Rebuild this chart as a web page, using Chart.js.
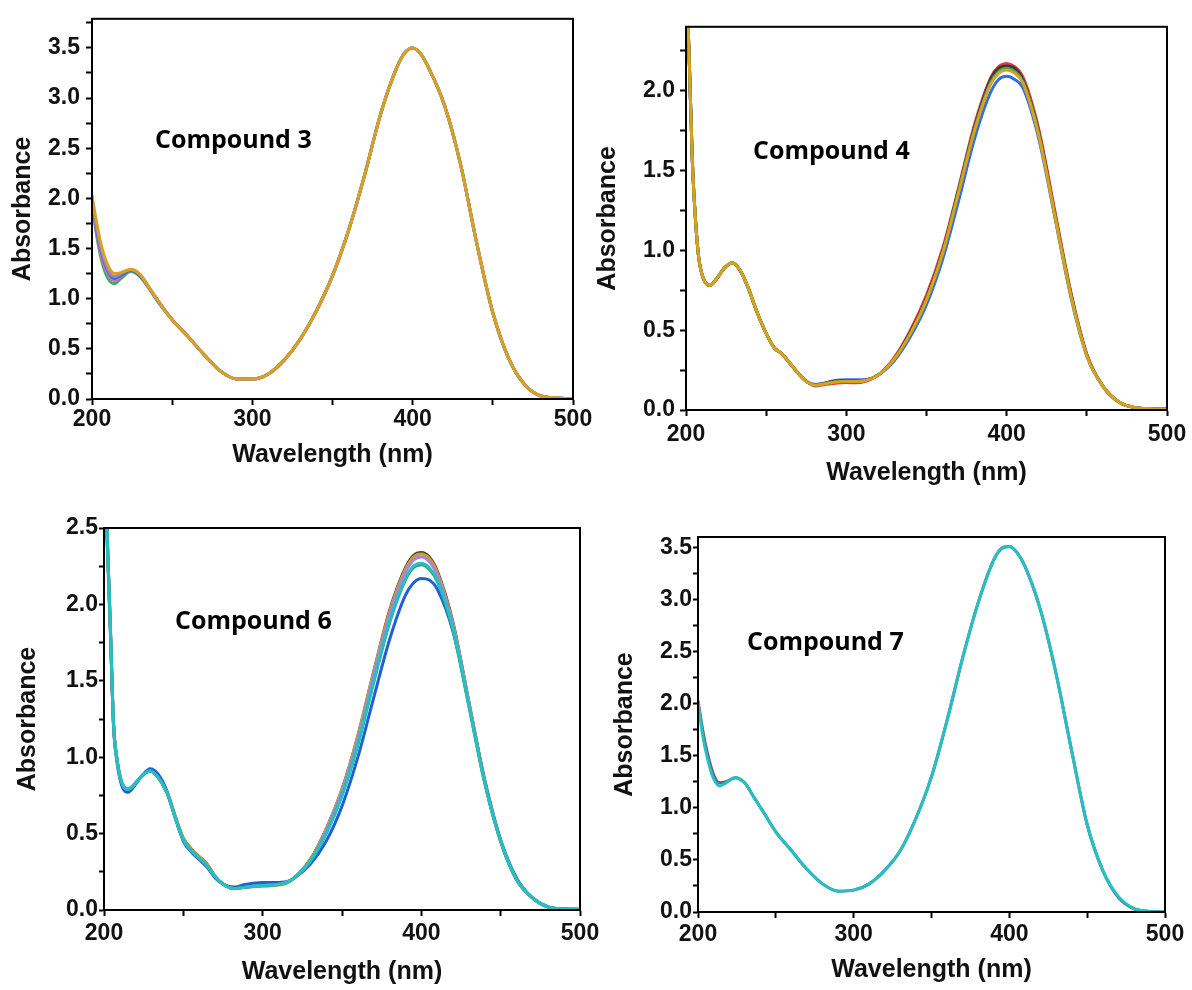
<!DOCTYPE html>
<html>
<head>
<meta charset="utf-8">
<title>UV-Vis spectra</title>
<script src="https://cdn.jsdelivr.net/npm/chart.js@4"></script>
<style>
  html, body { margin: 0; padding: 0; background: #fff; overflow: hidden; }
  body { width: 1192px; height: 990px; position: relative; }
  canvas { position: absolute; }
</style>
</head>
<body>
<canvas id="c3"></canvas>
<canvas id="c4"></canvas>
<canvas id="c6"></canvas>
<canvas id="c7"></canvas>
<script>
// Compound 3 (top left)
const wl3 = [200,203,206,210,214,218,224,230,236,242,250,260,270,280,290,300,310,320,330,340,350,360,370,380,390,395,400,405,410,420,430,440,450,460,470,480,490,500];
const c3Gold   = [2.03,1.75,1.52,1.33,1.25,1.26,1.29,1.24,1.10,0.96,0.79,0.62,0.44,0.28,0.20,0.20,0.25,0.39,0.60,0.88,1.23,1.68,2.23,2.84,3.30,3.45,3.50,3.44,3.30,2.92,2.33,1.55,0.86,0.40,0.14,0.03,0.01,0.00];
const c3Purple = [2.00,1.70,1.48,1.29,1.22,1.25,1.29,1.24,1.10,0.96,0.79,0.62,0.44,0.28,0.20,0.20,0.25,0.39,0.60,0.88,1.23,1.68,2.23,2.84,3.30,3.45,3.50,3.44,3.30,2.92,2.33,1.55,0.86,0.40,0.14,0.03,0.01,0.00];
const c3Blue   = [1.98,1.67,1.45,1.27,1.20,1.23,1.28,1.22,1.09,0.95,0.79,0.62,0.44,0.28,0.20,0.20,0.25,0.39,0.60,0.88,1.23,1.68,2.23,2.84,3.30,3.45,3.50,3.44,3.30,2.92,2.33,1.55,0.86,0.40,0.14,0.03,0.01,0.00];
const c3Pink   = [1.97,1.65,1.42,1.24,1.18,1.22,1.28,1.23,1.10,0.96,0.79,0.62,0.44,0.28,0.20,0.20,0.25,0.39,0.60,0.88,1.23,1.68,2.23,2.84,3.30,3.45,3.50,3.44,3.30,2.92,2.33,1.55,0.86,0.40,0.14,0.03,0.01,0.00];
const c3Green  = [1.95,1.62,1.38,1.20,1.15,1.20,1.27,1.23,1.10,0.96,0.79,0.62,0.44,0.28,0.20,0.20,0.25,0.39,0.60,0.88,1.23,1.68,2.23,2.84,3.30,3.45,3.50,3.44,3.30,2.92,2.33,1.55,0.86,0.40,0.14,0.03,0.01,0.00];

// Compound 4 (top right)
const wl4 = [200,202,204,206,208,211,215,219,224,229,234,239,244,250,255,260,265,270,275,281,287,293,300,306,312,320,330,340,350,360,370,380,390,395,400,405,410,420,430,440,450,460,470,480,490,500];
const c4Gold  = [2.80,2.20,1.55,1.18,0.95,0.82,0.78,0.82,0.89,0.92,0.87,0.76,0.62,0.48,0.39,0.35,0.29,0.23,0.18,0.155,0.165,0.175,0.18,0.178,0.185,0.22,0.32,0.48,0.69,0.98,1.36,1.75,2.04,2.11,2.13,2.11,2.05,1.72,1.22,0.72,0.34,0.15,0.05,0.015,0.008,0.005];
const c4Red   = [2.80,2.20,1.55,1.18,0.95,0.82,0.78,0.82,0.89,0.92,0.87,0.76,0.62,0.48,0.39,0.35,0.29,0.23,0.18,0.15,0.16,0.168,0.172,0.17,0.18,0.22,0.33,0.50,0.72,1.01,1.39,1.79,2.08,2.15,2.17,2.15,2.09,1.76,1.25,0.74,0.35,0.15,0.05,0.015,0.008,0.005];
const c4Black = [2.80,2.20,1.55,1.18,0.95,0.82,0.78,0.82,0.89,0.92,0.87,0.76,0.62,0.48,0.39,0.35,0.29,0.23,0.18,0.155,0.17,0.18,0.185,0.182,0.188,0.22,0.32,0.49,0.70,0.99,1.38,1.77,2.07,2.14,2.155,2.14,2.07,1.74,1.23,0.73,0.345,0.15,0.05,0.015,0.008,0.005];
const c4Green = [2.80,2.20,1.55,1.18,0.95,0.82,0.78,0.82,0.89,0.92,0.87,0.76,0.62,0.48,0.39,0.35,0.29,0.23,0.18,0.155,0.165,0.175,0.18,0.18,0.185,0.22,0.32,0.48,0.69,0.98,1.37,1.76,2.05,2.12,2.14,2.12,2.06,1.73,1.22,0.72,0.34,0.15,0.05,0.015,0.008,0.005];
const c4Blue  = [2.80,2.20,1.55,1.18,0.95,0.82,0.78,0.82,0.89,0.92,0.87,0.76,0.62,0.48,0.39,0.35,0.29,0.23,0.18,0.16,0.17,0.185,0.19,0.19,0.19,0.22,0.31,0.46,0.66,0.94,1.31,1.70,1.99,2.07,2.09,2.07,2.02,1.70,1.21,0.71,0.34,0.15,0.05,0.015,0.008,0.005];

// Compound 6 (bottom left)
const wl6 = [200,202,204,206,208,211,215,219,224,229,234,240,245,250,255,260,265,270,275,282,288,294,300,308,315,320,330,340,350,360,370,380,390,395,400,405,410,420,430,440,450,460,470,480,490,500];
const c6Cyan   = [3.00,2.45,1.85,1.22,1.00,0.84,0.79,0.82,0.88,0.91,0.87,0.76,0.60,0.46,0.39,0.34,0.29,0.22,0.17,0.14,0.148,0.155,0.16,0.165,0.18,0.21,0.32,0.50,0.75,1.09,1.50,1.89,2.17,2.25,2.27,2.24,2.16,1.84,1.34,0.83,0.45,0.20,0.08,0.02,0.006,0.004];
const c6Black  = [3.00,2.45,1.85,1.22,1.00,0.84,0.79,0.82,0.88,0.91,0.87,0.76,0.61,0.47,0.40,0.35,0.30,0.22,0.17,0.14,0.15,0.155,0.16,0.165,0.18,0.21,0.33,0.53,0.79,1.14,1.56,1.96,2.24,2.32,2.34,2.31,2.22,1.88,1.36,0.84,0.45,0.20,0.08,0.02,0.006,0.004];
const c6Orange = [3.00,2.45,1.85,1.22,1.00,0.84,0.79,0.82,0.88,0.91,0.87,0.76,0.61,0.47,0.40,0.35,0.30,0.22,0.17,0.14,0.148,0.152,0.155,0.16,0.175,0.21,0.33,0.53,0.79,1.14,1.56,1.95,2.23,2.31,2.33,2.30,2.21,1.87,1.36,0.84,0.45,0.20,0.08,0.02,0.006,0.004];
const c6Purple = [3.00,2.45,1.85,1.22,1.00,0.84,0.79,0.82,0.88,0.91,0.87,0.76,0.60,0.46,0.39,0.34,0.29,0.22,0.17,0.14,0.148,0.155,0.16,0.165,0.18,0.21,0.32,0.52,0.78,1.12,1.54,1.93,2.21,2.29,2.31,2.28,2.19,1.86,1.35,0.83,0.45,0.20,0.08,0.02,0.006,0.004];
const c6Green  = [3.00,2.45,1.85,1.22,1.00,0.84,0.79,0.82,0.88,0.91,0.87,0.76,0.60,0.46,0.39,0.34,0.29,0.22,0.17,0.14,0.148,0.155,0.16,0.165,0.18,0.21,0.32,0.50,0.75,1.08,1.49,1.88,2.16,2.24,2.26,2.23,2.15,1.83,1.33,0.83,0.45,0.20,0.08,0.02,0.006,0.004];
const c6Blue   = [2.95,2.40,1.82,1.20,0.98,0.82,0.77,0.81,0.88,0.925,0.89,0.77,0.60,0.45,0.38,0.33,0.28,0.21,0.17,0.15,0.165,0.175,0.18,0.18,0.185,0.21,0.30,0.45,0.68,1.00,1.39,1.77,2.06,2.14,2.17,2.16,2.10,1.82,1.35,0.85,0.46,0.21,0.08,0.02,0.006,0.004];

// Compound 7 (bottom right)
const wl7 = [200,203,206,210,214,218,224,230,236,242,250,260,270,280,290,300,310,320,330,340,350,360,370,380,390,395,400,405,410,420,430,440,450,460,470,480,490,500];
const c7Cyan = [2.01,1.70,1.48,1.28,1.21,1.24,1.29,1.24,1.10,0.96,0.77,0.59,0.41,0.27,0.20,0.21,0.27,0.40,0.59,0.90,1.30,1.84,2.44,2.97,3.38,3.49,3.51,3.45,3.32,2.90,2.29,1.55,0.84,0.40,0.15,0.035,0.006,0.00];
const c7Gray = [2.03,1.75,1.53,1.32,1.24,1.25,1.29,1.24,1.10,0.96,0.77,0.59,0.41,0.27,0.20,0.21,0.27,0.40,0.59,0.90,1.30,1.84,2.44,2.97,3.38,3.49,3.51,3.45,3.32,2.90,2.29,1.55,0.84,0.40,0.14,0.03,0.006,0.00];

const xTicks = [200, 300, 400, 500];

const axisFont = 'Liberation Sans, Arial, sans-serif';

// draws the closed black frame and the "Compound n" text
const framePlugin = {
    id: 'frame',
    afterDraw(chart, args, opts) {
        const { ctx, chartArea: a } = chart;
        ctx.save();
        ctx.strokeStyle = '#000';
        ctx.lineWidth = 2;
        ctx.strokeRect(a.left, a.top, a.right - a.left, a.bottom - a.top);
        ctx.fillStyle = '#000';
        ctx.font = 'bold 25px "Open Sans", sans-serif';
        ctx.textBaseline = 'alphabetic';
        ctx.fillText(opts.text, opts.x, opts.y);
        ctx.restore();
    }
};

function makeSeries(wl, values, color) {
    return {
        data: wl.map((x, i) => ({ x: x, y: values[i] })),
        borderColor: color,
        borderWidth: 3,
        pointRadius: 0,
        cubicInterpolationMode: 'monotone',
        clip: 0,
        fill: false
    };
}

function drawPanel(id, box, yMax, datasets, label) {
    const cv = document.getElementById(id);
    const w = box.yw + box.pw + 25;
    const h = 15 + box.ph + box.xh;
    cv.width = w;
    cv.height = h;
    cv.style.left = (box.left - box.yw) + 'px';
    cv.style.top = (box.top - 15) + 'px';
    cv.style.width = w + 'px';
    cv.style.height = h + 'px';

    new Chart(cv, {
        type: 'line',
        data: { datasets: datasets },
        plugins: [framePlugin],
        options: {
            responsive: false,
            animation: false,
            events: [],
            layout: { padding: { top: 15, right: 25, left: 0, bottom: 0 } },
            plugins: {
                legend: { display: false },
                tooltip: { enabled: false },
                frame: { text: label, x: box.lx - (box.left - box.yw), y: box.ly - (box.top - 15) }
            },
            scales: {
                x: {
                    type: 'linear',
                    min: 200,
                    max: 500,
                    afterFit: (s) => { s.height = box.xh; },
                    border: { color: '#000', width: 2 },
                    grid: { drawOnChartArea: false, tickLength: 6, tickWidth: 2, tickColor: '#000' },
                    ticks: {
                        stepSize: 50,
                        autoSkip: false,
                        maxRotation: 0,
                        padding: box.xpad,
                        color: '#111',
                        font: { family: axisFont, size: 23, weight: 'bold' },
                        callback: (v) => xTicks.includes(v) ? String(v) : ''
                    },
                    title: {
                        display: true,
                        text: 'Wavelength (nm)',
                        color: '#111',
                        padding: 0,
                        font: { family: axisFont, size: 25, weight: 'bold' }
                    }
                },
                y: {
                    min: 0,
                    max: yMax,
                    afterFit: (s) => { s.width = box.yw; },
                    border: { color: '#000', width: 2 },
                    grid: { drawOnChartArea: false, tickLength: box.ytl, tickWidth: 2, tickColor: '#000' },
                    ticks: {
                        stepSize: 0.25,
                        includeBounds: false,
                        autoSkip: false,
                        padding: box.ypad,
                        color: '#111',
                        font: { family: axisFont, size: 23, weight: 'bold' },
                        callback: (v) => Math.abs(v * 2 - Math.round(v * 2)) < 1e-6 ? v.toFixed(1) : ''
                    },
                    title: {
                        display: true,
                        text: 'Absorbance',
                        color: '#111',
                        padding: 0,
                        font: { family: axisFont, size: 25, weight: 'bold' }
                    }
                }
            }
        }
    });
}

// first dataset is drawn on top
drawPanel('c3',
    { left: 92, top: 14, yw: 84, pw: 481, ph: 385, xh: 71, xpad: 1, ytl: 6, ypad: 6, lx: 155, ly: 148 },
    3.79,
    [makeSeries(wl3, c3Gold, '#d8a21c'), makeSeries(wl3, c3Purple, '#9a80d4'), makeSeries(wl3, c3Blue, '#3b6fd8'),
     makeSeries(wl3, c3Pink, '#e0709c'), makeSeries(wl3, c3Green, '#3aac68')],
    'Compound 3');

drawPanel('c4',
    { left: 686, top: 23, yw: 93, pw: 481, ph: 387, xh: 78, xpad: 5, ytl: 6, ypad: 5, lx: 753, ly: 159 },
    2.4,
    [makeSeries(wl4, c4Gold, '#d8a21c'), makeSeries(wl4, c4Green, '#3aa36a'), makeSeries(wl4, c4Black, '#3a3a3a'),
     makeSeries(wl4, c4Red, '#e23b3b'), makeSeries(wl4, c4Blue, '#2f6fe0')],
    'Compound 4');

drawPanel('c6',
    { left: 104, top: 528, yw: 91, pw: 476, ph: 382, xh: 77, xpad: 4, ytl: 5, ypad: 1, lx: 175, ly: 629 },
    2.5,
    [makeSeries(wl6, c6Cyan, '#25c0c5'), makeSeries(wl6, c6Green, '#30a060'), makeSeries(wl6, c6Purple, '#b080e0'),
     makeSeries(wl6, c6Orange, '#c9a020'), makeSeries(wl6, c6Black, '#404040'), makeSeries(wl6, c6Blue, '#1f5fd8')],
    'Compound 6');

drawPanel('c7',
    { left: 698, top: 537, yw: 88, pw: 467, ph: 375, xh: 73, xpad: 3, ytl: 5, ypad: 1, lx: 747, ly: 650 },
    3.6,
    [makeSeries(wl7, c7Cyan, '#25c0c5'), makeSeries(wl7, c7Gray, '#6b5e78')],
    'Compound 7');
</script>
</body>
</html>
